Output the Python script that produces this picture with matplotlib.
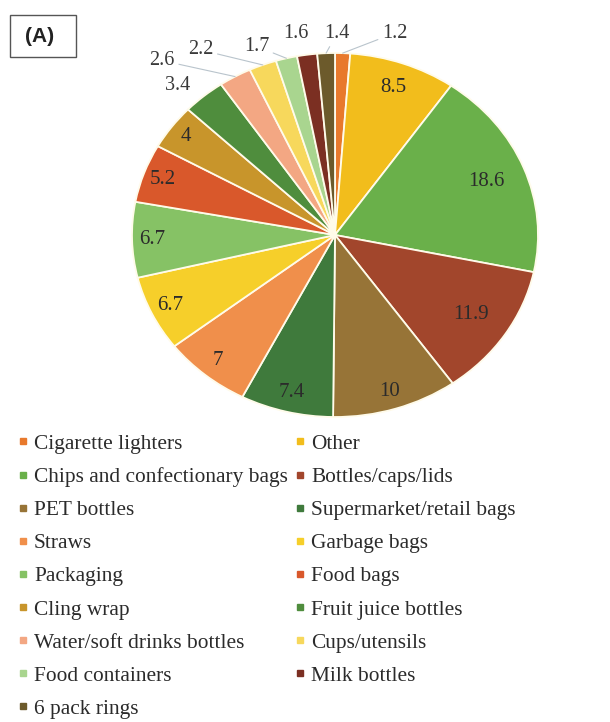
import numpy as np
import matplotlib.pyplot as plt
from matplotlib.patches import Rectangle
from matplotlib.lines import Line2D

# litter categories, % of items
categories = ["Cigarette lighters", "Other", "Chips and confectionary bags", "Bottles/caps/lids",
              "PET bottles", "Supermarket/retail bags", "Straws", "Garbage bags", "Packaging",
              "Food bags", "Cling wrap", "Fruit juice bottles", "Water/soft drinks bottles",
              "Cups/utensils", "Food containers", "Milk bottles", "6 pack rings"]
values = [1.2, 8.5, 18.6, 11.9, 10, 7.4, 7, 6.7, 6.7, 5.2, 4, 3.4, 2.6, 2.2, 1.7, 1.6, 1.4]
value_labels = ["1.2", "8.5", "18.6", "11.9", "10", "7.4", "7", "6.7", "6.7", "5.2", "4",
                "3.4", "2.6", "2.2", "1.7", "1.6", "1.4"]

colors = ["#e8792c", "#f2bd1c", "#6ab04a", "#a2462c", "#977437", "#3f7a3c", "#f08f4b",
          "#f6cf2a", "#86c265", "#d9582b", "#c8952b", "#4f8d3d", "#f3a783", "#f7d85c",
          "#a9d58f", "#7b2f22", "#6c5a2b"]

# label placement: radius inside the pie, or pixel offset for the small outside ones
inside_r = [None, 0.86, 0.80, 0.80, 0.90, 0.89, 0.90, 0.90, 0.90, 0.90, 0.91,
            None, None, None, None, None, None]
outside_off = {0: (52, 20), 16: (11, 20), 15: (-11, 21), 14: (-30, 12),
               13: (-62, 15), 12: (-73, 16), 11: (-26, 11)}
with_leader = [0, 16, 14, 13, 12]

serif = "Liberation Serif"

fig = plt.figure(figsize=(6.1, 7.22), dpi=100)
W, H = 610, 722

# pie drawn in a stretched axes -> slightly elliptical like the reference
ax = fig.add_axes([132 / W, 1 - 417 / H, 406 / W, 364 / H])
wedges, _ = ax.pie(values, colors=colors, startangle=90, counterclock=False,
                   wedgeprops=dict(edgecolor="#fffbea", linewidth=1.3))
ax.set_aspect("auto")
ax.set_xlim(-1, 1)
ax.set_ylim(-1, 1)
ax.axis("off")

cum = np.cumsum([0] + values)
total = cum[-1]
for i, lab in enumerate(value_labels):
    mid = (cum[i] + cum[i + 1]) / 2 / total * 2 * np.pi
    sx, sy = np.sin(mid), np.cos(mid)
    if inside_r[i] is not None:
        r = inside_r[i]
        ax.text(r * sx, r * sy, lab, ha="center", va="center", fontsize=15,
                family=serif, color="#2b2b2b")
    else:
        dx, dy = outside_off[i]
        ax.annotate(lab, xy=(sx, sy), xytext=(dx, dy), textcoords="offset pixels",
                    ha="center", va="center", fontsize=14.5, family=serif, color="#3a3a3a",
                    arrowprops=dict(arrowstyle="-", color="#b9c4cc", lw=0.8,
                                    shrinkA=1, shrinkB=0) if i in with_leader else None)

# legend, filled row by row as in the reference
order = list(range(0, len(categories), 2)) + list(range(1, len(categories), 2))
handles = [Line2D([], [], marker="s", linestyle="none", markersize=4.5,
                  markerfacecolor=colors[i], markeredgecolor=colors[i]) for i in order]
fig.legend(handles, [categories[i] for i in order], ncol=2, loc="upper left",
           bbox_to_anchor=(19 / W, 1 - 434 / H), frameon=False, borderpad=0,
           borderaxespad=0, prop=dict(family=serif, size=15.4), labelcolor="#2b2b2b",
           handlelength=0.42, handletextpad=0.28, labelspacing=0.615, columnspacing=0.38)

# panel tag
fig.patches.append(Rectangle((10 / W, 1 - 57 / H), 66 / W, 42 / H, transform=fig.transFigure,
                             fill=False, edgecolor="#555555", linewidth=1.0))
fig.text(40 / W, 1 - 36 / H, "(A)", ha="center", va="center", fontsize=15,
         fontweight="bold", family="Liberation Sans", color="#222222")

fig.savefig("out.png", dpi=100)
